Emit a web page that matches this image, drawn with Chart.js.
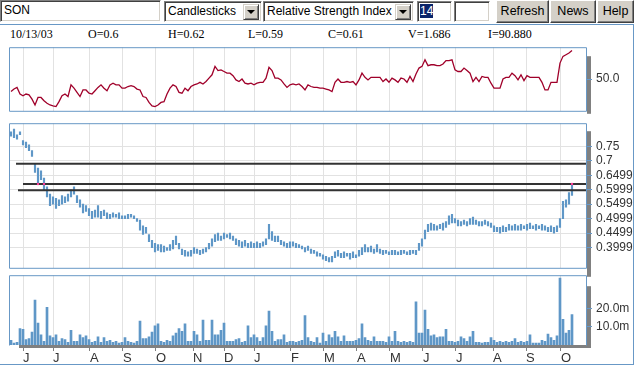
<!DOCTYPE html>
<html>
<head>
<meta charset="utf-8">
<script src="https://cdn.jsdelivr.net/npm/chart.js@4.4.1/dist/chart.umd.min.js"></script>
<style>
html,body{margin:0;padding:0;background:#fff;width:637px;height:366px;overflow:hidden;position:relative;font-family:"Liberation Sans",Arial,sans-serif;}
.field{position:absolute;background:#fff;box-sizing:border-box;border:1px solid;border-color:#808080 #fff #fff #808080;box-shadow:inset 1px 1px #404040, inset -1px -1px #d4d0c8;font-size:12px;line-height:19px;padding-left:3px;color:#000;white-space:nowrap;overflow:hidden;}
.arrow{position:absolute;top:2px;right:2px;width:16px;height:16px;box-sizing:border-box;background:#d4d0c8;border:1px solid;border-color:#d4d0c8 #404040 #404040 #d4d0c8;box-shadow:inset 1px 1px #fff, inset -1px -1px #808080;}
.arrow:after{content:"";position:absolute;left:3px;top:5px;border-left:4px solid transparent;border-right:4px solid transparent;border-top:4px solid #000;}
.btn{position:absolute;top:0;height:23px;box-sizing:border-box;background:#d4d0c8;border:1px solid;border-color:#fff #404040 #404040 #fff;box-shadow:inset -1px -1px #808080;font-size:12.5px;line-height:21px;text-align:center;color:#000;}
.info{position:absolute;top:27px;font-family:"Liberation Serif","Times New Roman",serif;font-size:12px;line-height:14px;color:#000;white-space:nowrap;}
.line{position:absolute;background:#6898c6;}
canvas{position:absolute;left:0;}
</style>
</head>
<body>
<div class="field" style="left:0;top:0;width:161px;height:22px;">SON</div>
<div class="field" style="left:164px;top:1px;width:98px;height:21px;">Candlesticks<div class="arrow"></div></div>
<div class="field" style="left:263px;top:1px;width:151px;height:21px;">Relative Strength Index<div class="arrow"></div></div>
<div class="field" style="left:417px;top:1px;width:35px;height:21px;padding-left:2px;"><span style="background:#0a246a;color:#fff;">14</span></div>
<div class="field" style="left:454px;top:1px;width:36px;height:21px;"></div>
<div class="btn" style="left:496px;width:53px;">Refresh</div>
<div class="btn" style="left:550px;width:46px;">News</div>
<div class="btn" style="left:597px;width:37px;">Help</div>

<div class="line" style="left:0;top:24px;width:634px;height:1px;"></div>
<div class="line" style="left:633px;top:24px;width:1px;height:341px;"></div>
<div class="line" style="left:0;top:364px;width:634px;height:1px;"></div>

<div class="info" style="left:10px;">10/13/03</div>
<div class="info" style="left:88px;">O=0.6</div>
<div class="info" style="left:168px;">H=0.62</div>
<div class="info" style="left:248px;">L=0.59</div>
<div class="info" style="left:328px;">C=0.61</div>
<div class="info" style="left:408px;">V=1.686</div>
<div class="info" style="left:488px;">I=90.880</div>

<canvas id="cRsi" width="633" height="86" style="top:36px;"></canvas>
<canvas id="cPrice" width="633" height="167" style="top:112px;"></canvas>
<canvas id="cVol" width="633" height="102" style="top:264px;"></canvas>

<script>
// ---------- data ----------
const monthLabels = ['J','J','A','S','O','N','D','J','F','M','A','M','J','J','A','S','O'];
const monthStarts = [4,14,26.33,37.33,48.33,60.67,71,81,93.33,104.33,115.33,126.33,137.33,148.33,160.67,171.67,183.33];

const priceHigh = [
.80,.81,.79,.80,.77,.765,.755,.735,.69,.675,
.665,.64,.61,.585,.575,.57,.565,.58,.575,.585,
.60,.61,.58,.565,.55,.545,.535,.525,.53,.545,
.525,.53,.52,.515,.52,.515,.52,.51,.51,.515,
.515,.51,.50,.495,.475,.47,.445,.425,.415,.41,
.41,.405,.40,.41,.425,.44,.415,.395,.39,.385,
.39,.40,.395,.39,.395,.40,.415,.43,.445,.45,
.44,.45,.445,.45,.44,.43,.425,.42,.425,.415,
.42,.415,.42,.415,.42,.43,.48,.455,.44,.44,
.425,.42,.415,.42,.42,.415,.41,.405,.40,.405,
.395,.39,.385,.38,.375,.37,.365,.37,.385,.39,
.38,.385,.38,.38,.385,.375,.39,.40,.41,.40,
.405,.395,.41,.395,.39,.39,.385,.39,.39,.385,
.39,.39,.385,.39,.39,.39,.415,.43,.46,.48,
.485,.48,.475,.48,.485,.49,.51,.515,.50,.495,
.49,.495,.49,.50,.505,.495,.49,.49,.495,.49,
.485,.475,.47,.47,.475,.47,.48,.475,.48,.475,
.48,.475,.48,.485,.475,.48,.475,.48,.475,.47,
.475,.47,.475,.50,.56,.565,.59,.62];

const priceLow = [
.785,.78,.775,.79,.755,.745,.735,.715,.66,.62,
.635,.60,.575,.545,.55,.535,.545,.55,.555,.56,
.575,.585,.555,.54,.52,.525,.51,.50,.505,.505,
.50,.51,.50,.50,.505,.505,.50,.50,.50,.50,
.505,.50,.49,.46,.445,.45,.42,.40,.385,.39,
.385,.385,.39,.39,.395,.41,.395,.375,.37,.37,
.37,.38,.38,.375,.38,.385,.395,.405,.42,.425,
.425,.43,.435,.43,.425,.41,.405,.40,.405,.40,
.40,.40,.40,.40,.405,.41,.43,.425,.42,.42,
.41,.405,.40,.40,.405,.40,.40,.395,.385,.39,
.38,.38,.37,.37,.36,.355,.35,.35,.365,.37,
.365,.365,.37,.36,.365,.365,.37,.375,.385,.385,
.385,.38,.385,.38,.375,.38,.375,.375,.375,.375,
.375,.38,.375,.375,.38,.375,.39,.405,.43,.455,
.46,.46,.46,.465,.46,.47,.48,.485,.485,.475,
.475,.48,.475,.48,.48,.48,.475,.475,.48,.475,
.47,.455,.455,.45,.455,.455,.46,.46,.46,.46,
.46,.465,.46,.465,.465,.46,.465,.46,.46,.455,
.455,.45,.455,.47,.50,.54,.55,.58];

const rsi = [
40.1,42.1,43.4,38.2,36.8,38.2,37.5,34.2,29.6,35.5,
35.5,32.9,30.9,29.6,28.9,28.3,32.2,36.8,38.2,36.2,
45.4,42.8,39.5,36.2,41.4,41.4,38.8,38.2,40.8,43.4,
45.4,42.8,40.8,45.4,46.7,45.4,45.4,42.8,42.8,44.1,
44.7,44.1,42.1,41.4,36.2,35.5,31.6,28.9,28.3,29.6,
31.6,32.2,38.2,42.8,45.4,44.1,39.5,38.8,42.8,40.8,
44.1,45.4,46.1,47.4,46.1,48.0,50.7,53.3,59.9,56.6,
57.2,55.9,54.6,54.6,52.6,49.3,48.0,50.0,46.7,46.1,
46.7,45.4,46.7,47.4,47.4,50.7,59.2,56.6,50.7,50.7,
49.3,46.1,43.4,45.4,46.1,45.4,46.1,44.1,41.4,45.4,
44.1,43.4,43.4,42.8,42.8,42.1,41.4,40.1,47.4,50.0,
47.4,47.4,48.0,47.4,48.0,45.4,49.3,54.6,51.3,49.3,
51.3,51.3,51.3,51.3,48.0,50.0,47.4,50.7,49.3,47.4,
50.7,50.0,47.4,52.0,48.0,53.9,58.6,59.9,65.1,60.5,
61.2,61.2,60.5,60.5,61.8,64.5,64.5,65.1,57.2,55.9,
55.9,58.6,56.6,54.6,48.0,51.3,48.0,52.0,51.3,51.3,
46.7,42.8,42.8,42.8,50.0,51.3,51.3,54.6,52.6,49.3,
53.3,48.7,52.6,51.3,51.3,51.3,51.3,47.4,41.4,41.4,
47.4,47.4,47.4,62.5,67.8,69.1,70.4,72.4];

const volume = [
2.5,1,1.5,9,8.5,3,3.5,7,24.5,12,
5.5,2,20.5,5,4,5.5,2,3.5,3,1.5,
8,2,2,5.5,4,5,3,1.5,2,4.5,
1.5,4,2,2.5,1.5,2,1,1.5,4,2,
1.5,1,2,13,3.5,3.5,4.5,7,10.5,11.5,
2,1.5,2.5,2,5,6.5,9,7.5,11.5,2,
2,7.5,5.5,2,13.5,2.5,2.5,13.5,5.5,5.5,
8,12,2,2,2,3,3.5,1.5,2,10.5,
4,5.5,4,2,4,10.5,18.5,7.5,2,3,
3,5.5,1.5,2,2,1.5,2,2.5,16,4,
2,1.5,4,1,6.5,2,5.5,4,7.5,4.5,
2,5,2,2,2,2.5,3.5,11.5,4,2.5,
2,4.5,2,2,2,1.5,4.5,2,7.5,2,
1.5,2,1.5,2,1.5,23.5,6.5,6.5,19,8.5,
5,5.5,4,4.5,4.5,8.5,2,2,1.5,2,
4.5,3.5,2,4.5,7.5,1.5,1.5,1,1.5,1.5,
4,2.5,1.5,2,1.5,2,1.5,2,3.5,1.5,
2,1.5,2,5.5,1,1,1,2.5,2,6,
4,2.5,5,36.5,14,6.5,8,16.5];

const priceTickValues = [0.75,0.7,0.65,0.6,0.55,0.5,0.45,0.4];
const priceTickLabels = ['0.75','0.7','0.64999','0.59999','0.54999','0.49999','0.44999','0.39999'];
const rsiTickValues = [50];
const rsiTickLabels = ['50.0'];
const volTickValues = [10,20];
const volTickLabels = ['10.0m','20.0m'];

// horizontal study lines: level and starting day
const levelValues = [0.69, 0.62, 0.598];
const levelStarts = [1.67, 4, 2.33];
// marked touches of the 0.62 line
const touchDays = [9, 11, 187];
const touchValue = 0.62;

// ---------- styling / chart ----------
const FRAME = '#6898c6';
const BAR = '#5f97c7';
const GRID = '#e2e2e2';
const X_MIN = -0.67, X_MAX = 191.67;
const days = priceHigh.map((_, i) => i);
const axisFont = {family:'"Liberation Sans", Arial, sans-serif', size:12};

function xScale(show){
  return {
    type:'linear', min:X_MIN, max:X_MAX, offset:false,
    afterBuildTicks: s => { s.ticks = monthStarts.map(v => ({value:v})); },
    afterFit: s => { s.height = show ? 21 : 0; },
    grid:{color:GRID, lineWidth:1, drawTicks:show, tickLength:6, tickColor:'#808080', offset:false},
    border:{display:false},
    ticks:{display:show, autoSkip:false, maxRotation:0, minRotation:0, padding:0, align:'start',
           color:'#333', font:{family:axisFont.family, size:13}, callback:(v,i) => monthLabels[i]}
  };
}
function yScale(min, max, vals, labels, gridOn){
  return {
    position:'right', min, max,
    afterBuildTicks: s => { s.ticks = vals.map(v => ({value:v})); },
    afterFit: s => { s.width = 47; },
    grid:{drawOnChartArea:gridOn, color:GRID, tickLength:6, tickColor:FRAME, lineWidth:1},
    border:{display:false},
    ticks:{autoSkip:false, padding:4, color:'#333', font:axisFont, callback:(v,i) => labels[i]}
  };
}
const deco = {
  id:'deco',
  beforeDraw(chart, args, o){
    const {ctx, chartArea:a} = chart;
    ctx.save();
    ctx.fillStyle = '#808080';
    ctx.fillRect(a.right + 1, a.top + o.grayTop, 4, (a.bottom - a.top) - o.grayTop + o.grayBottom);
    if (o.axisBar) ctx.fillRect(a.left + 10, a.bottom, a.right + 5 - (a.left + 10), 3);
    ctx.restore();
  },
  afterDraw(chart, args, o){
    const {ctx, chartArea:a} = chart;
    const L = a.left + 0.5, R = a.right + 0.5, T = a.top + 0.5, B = a.bottom + 0.5;
    ctx.save();
    ctx.strokeStyle = FRAME; ctx.lineWidth = 1;
    ctx.beginPath();
    ctx.moveTo(L, B); ctx.lineTo(L, T); ctx.lineTo(R, T); ctx.lineTo(R, B);
    if (o.bottomLine) { ctx.lineTo(L, B); }
    ctx.stroke();
    ctx.restore();
  }
};
function baseOptions(padBottom, scales, decoOpts){
  return {
    responsive:false, animation:false, devicePixelRatio:1,
    layout:{padding:{left:9, right:0, top:5, bottom:padBottom}},
    plugins:{legend:{display:false}, tooltip:{enabled:false}, deco:decoOpts},
    scales
  };
}

// RSI panel
new Chart(document.getElementById('cRsi'), {
  type:'line',
  data:{datasets:[{
    data: days.map(i => ({x:i, y:rsi[i]})),
    borderColor:'#a0002a', borderWidth:1.3, pointRadius:0, tension:0
  }]},
  options: baseOptions(5, {x:xScale(false), y:yScale(25, 75, rsiTickValues, rsiTickLabels, false)},
                       {grayTop:9, grayBottom:3, bottomLine:true}),
  plugins:[deco]
});

// Price panel
const levelSets = levelValues.map((v, k) => ({
  type:'line', data:[{x:levelStarts[k], y:v},{x:X_MAX, y:v}],
  borderColor:'#333', borderWidth:2, pointRadius:0, order:0
}));
new Chart(document.getElementById('cPrice'), {
  type:'bar',
  data:{datasets:[
    {type:'bar', data: days.map(i => ({x:i, y:[priceLow[i], priceHigh[i]]})),
     backgroundColor:BAR, barThickness:1.5, grouped:false, order:2},
    ...levelSets,
    {type:'scatter', data: touchDays.map(d => ({x:d, y:touchValue})),
     pointRadius:1.2, pointBackgroundColor:'#ff3c96', pointBorderWidth:0, order:-1}
  ]},
  options: baseOptions(10, {x:xScale(false), y:yScale(0.33, 0.83, priceTickValues, priceTickLabels, true)},
                       {grayTop:8, grayBottom:9, bottomLine:true}),
  plugins:[deco]
});

// Volume panel
new Chart(document.getElementById('cVol'), {
  type:'bar',
  data:{datasets:[{
    data: days.map(i => ({x:i, y:volume[i]})),
    backgroundColor:BAR, barThickness:2, grouped:false
  }]},
  options: baseOptions(0, {x:xScale(true), y:yScale(0, 38, volTickValues, volTickLabels, false)},
                       {grayTop:11, grayBottom:3, bottomLine:false, axisBar:true}),
  plugins:[deco]
});
</script>
</body>
</html>
